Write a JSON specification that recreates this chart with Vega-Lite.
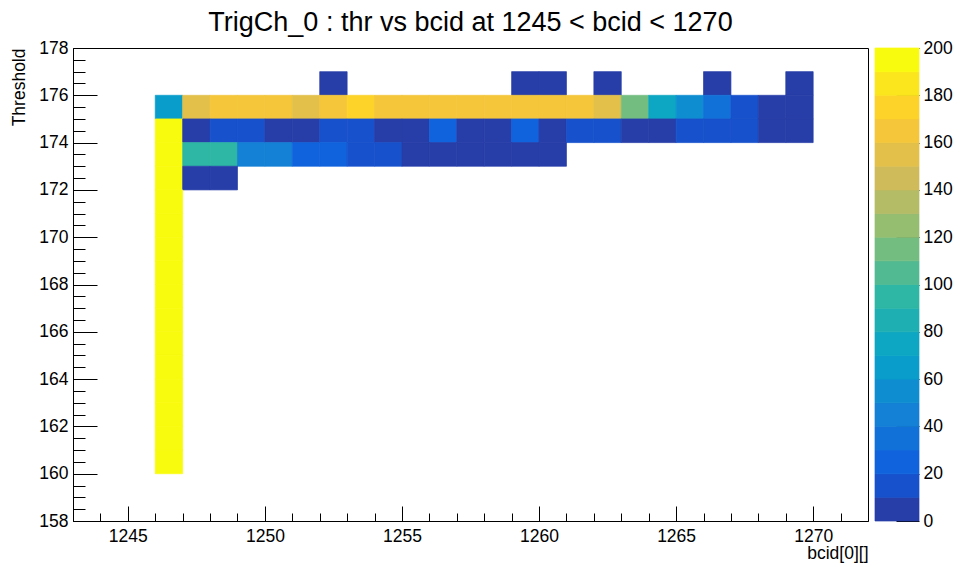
{
  "$schema": "https://vega.github.io/schema/vega-lite/v6.json",
  "background": "white",
  "padding": {"left": 10, "top": 8, "right": 5, "bottom": 0},
  "spacing": 5,
  "config": {
    "font": "Liberation Sans",
    "view": {"stroke": "black", "strokeWidth": 1},
    "axis": {
      "grid": false,
      "labelFont": "Liberation Sans",
      "labelFontSize": 17.5,
      "labelColor": "black",
      "titleFont": "Liberation Sans",
      "titleFontSize": 17.5,
      "titleFontWeight": "normal",
      "titleColor": "black",
      "domainColor": "black",
      "tickColor": "black",
      "tickWidth": 1
    }
  },
  "hconcat": [
    {
      "width": 795,
      "height": 473,
      "title": {"text": "TrigCh_0 : thr vs bcid at 1245 < bcid < 1270", "font": "Liberation Sans", "fontSize": 27, "fontWeight": "normal", "color": "black", "anchor": "middle", "frame": "group", "offset": 2},
      "data": {"values": [
        {"b0": 1252, "b1": 1253, "t0": 176, "t1": 177, "n": 3},
        {"b0": 1259, "b1": 1260, "t0": 176, "t1": 177, "n": 3},
        {"b0": 1260, "b1": 1261, "t0": 176, "t1": 177, "n": 3},
        {"b0": 1262, "b1": 1263, "t0": 176, "t1": 177, "n": 3},
        {"b0": 1266, "b1": 1267, "t0": 176, "t1": 177, "n": 3},
        {"b0": 1269, "b1": 1270, "t0": 176, "t1": 177, "n": 3},
        {"b0": 1246, "b1": 1247, "t0": 175, "t1": 176, "n": 65},
        {"b0": 1247, "b1": 1248, "t0": 175, "t1": 176, "n": 155},
        {"b0": 1248, "b1": 1249, "t0": 175, "t1": 176, "n": 165},
        {"b0": 1249, "b1": 1250, "t0": 175, "t1": 176, "n": 165},
        {"b0": 1250, "b1": 1251, "t0": 175, "t1": 176, "n": 165},
        {"b0": 1251, "b1": 1252, "t0": 175, "t1": 176, "n": 155},
        {"b0": 1252, "b1": 1253, "t0": 175, "t1": 176, "n": 165},
        {"b0": 1253, "b1": 1254, "t0": 175, "t1": 176, "n": 175},
        {"b0": 1254, "b1": 1255, "t0": 175, "t1": 176, "n": 165},
        {"b0": 1255, "b1": 1256, "t0": 175, "t1": 176, "n": 165},
        {"b0": 1256, "b1": 1257, "t0": 175, "t1": 176, "n": 165},
        {"b0": 1257, "b1": 1258, "t0": 175, "t1": 176, "n": 165},
        {"b0": 1258, "b1": 1259, "t0": 175, "t1": 176, "n": 165},
        {"b0": 1259, "b1": 1260, "t0": 175, "t1": 176, "n": 165},
        {"b0": 1260, "b1": 1261, "t0": 175, "t1": 176, "n": 165},
        {"b0": 1261, "b1": 1262, "t0": 175, "t1": 176, "n": 165},
        {"b0": 1262, "b1": 1263, "t0": 175, "t1": 176, "n": 155},
        {"b0": 1263, "b1": 1264, "t0": 175, "t1": 176, "n": 115},
        {"b0": 1264, "b1": 1265, "t0": 175, "t1": 176, "n": 75},
        {"b0": 1265, "b1": 1266, "t0": 175, "t1": 176, "n": 55},
        {"b0": 1266, "b1": 1267, "t0": 175, "t1": 176, "n": 35},
        {"b0": 1267, "b1": 1268, "t0": 175, "t1": 176, "n": 15},
        {"b0": 1268, "b1": 1269, "t0": 175, "t1": 176, "n": 5},
        {"b0": 1269, "b1": 1270, "t0": 175, "t1": 176, "n": 5},
        {"b0": 1246, "b1": 1247, "t0": 174, "t1": 175, "n": 200},
        {"b0": 1247, "b1": 1248, "t0": 174, "t1": 175, "n": 5},
        {"b0": 1248, "b1": 1249, "t0": 174, "t1": 175, "n": 15},
        {"b0": 1249, "b1": 1250, "t0": 174, "t1": 175, "n": 15},
        {"b0": 1250, "b1": 1251, "t0": 174, "t1": 175, "n": 5},
        {"b0": 1251, "b1": 1252, "t0": 174, "t1": 175, "n": 5},
        {"b0": 1252, "b1": 1253, "t0": 174, "t1": 175, "n": 15},
        {"b0": 1253, "b1": 1254, "t0": 174, "t1": 175, "n": 15},
        {"b0": 1254, "b1": 1255, "t0": 174, "t1": 175, "n": 5},
        {"b0": 1255, "b1": 1256, "t0": 174, "t1": 175, "n": 5},
        {"b0": 1256, "b1": 1257, "t0": 174, "t1": 175, "n": 25},
        {"b0": 1257, "b1": 1258, "t0": 174, "t1": 175, "n": 5},
        {"b0": 1258, "b1": 1259, "t0": 174, "t1": 175, "n": 5},
        {"b0": 1259, "b1": 1260, "t0": 174, "t1": 175, "n": 25},
        {"b0": 1260, "b1": 1261, "t0": 174, "t1": 175, "n": 5},
        {"b0": 1261, "b1": 1262, "t0": 174, "t1": 175, "n": 15},
        {"b0": 1262, "b1": 1263, "t0": 174, "t1": 175, "n": 15},
        {"b0": 1263, "b1": 1264, "t0": 174, "t1": 175, "n": 5},
        {"b0": 1264, "b1": 1265, "t0": 174, "t1": 175, "n": 5},
        {"b0": 1265, "b1": 1266, "t0": 174, "t1": 175, "n": 15},
        {"b0": 1266, "b1": 1267, "t0": 174, "t1": 175, "n": 15},
        {"b0": 1267, "b1": 1268, "t0": 174, "t1": 175, "n": 15},
        {"b0": 1268, "b1": 1269, "t0": 174, "t1": 175, "n": 5},
        {"b0": 1269, "b1": 1270, "t0": 174, "t1": 175, "n": 5},
        {"b0": 1246, "b1": 1247, "t0": 173, "t1": 174, "n": 200},
        {"b0": 1247, "b1": 1248, "t0": 173, "t1": 174, "n": 95},
        {"b0": 1248, "b1": 1249, "t0": 173, "t1": 174, "n": 95},
        {"b0": 1249, "b1": 1250, "t0": 173, "t1": 174, "n": 45},
        {"b0": 1250, "b1": 1251, "t0": 173, "t1": 174, "n": 45},
        {"b0": 1251, "b1": 1252, "t0": 173, "t1": 174, "n": 25},
        {"b0": 1252, "b1": 1253, "t0": 173, "t1": 174, "n": 25},
        {"b0": 1253, "b1": 1254, "t0": 173, "t1": 174, "n": 15},
        {"b0": 1254, "b1": 1255, "t0": 173, "t1": 174, "n": 15},
        {"b0": 1255, "b1": 1256, "t0": 173, "t1": 174, "n": 5},
        {"b0": 1256, "b1": 1257, "t0": 173, "t1": 174, "n": 5},
        {"b0": 1257, "b1": 1258, "t0": 173, "t1": 174, "n": 5},
        {"b0": 1258, "b1": 1259, "t0": 173, "t1": 174, "n": 5},
        {"b0": 1259, "b1": 1260, "t0": 173, "t1": 174, "n": 5},
        {"b0": 1260, "b1": 1261, "t0": 173, "t1": 174, "n": 5},
        {"b0": 1246, "b1": 1247, "t0": 172, "t1": 173, "n": 200},
        {"b0": 1247, "b1": 1248, "t0": 172, "t1": 173, "n": 5},
        {"b0": 1248, "b1": 1249, "t0": 172, "t1": 173, "n": 5},
        {"b0": 1246, "b1": 1247, "t0": 171, "t1": 172, "n": 200},
        {"b0": 1246, "b1": 1247, "t0": 170, "t1": 171, "n": 200},
        {"b0": 1246, "b1": 1247, "t0": 169, "t1": 170, "n": 200},
        {"b0": 1246, "b1": 1247, "t0": 168, "t1": 169, "n": 200},
        {"b0": 1246, "b1": 1247, "t0": 167, "t1": 168, "n": 200},
        {"b0": 1246, "b1": 1247, "t0": 166, "t1": 167, "n": 200},
        {"b0": 1246, "b1": 1247, "t0": 165, "t1": 166, "n": 200},
        {"b0": 1246, "b1": 1247, "t0": 164, "t1": 165, "n": 200},
        {"b0": 1246, "b1": 1247, "t0": 163, "t1": 164, "n": 200},
        {"b0": 1246, "b1": 1247, "t0": 162, "t1": 163, "n": 200},
        {"b0": 1246, "b1": 1247, "t0": 161, "t1": 162, "n": 200},
        {"b0": 1246, "b1": 1247, "t0": 160, "t1": 161, "n": 200}
      ]},
      "layer": [
        {
          "mark": {"type": "rect", "strokeWidth": 0.7},
          "encoding": {
            "x": {"field": "b0", "type": "quantitative",
              "scale": {"domain": [1243, 1272], "nice": false, "zero": false},
              "axis": {"orient": "bottom", "values": [1245, 1250, 1255, 1260, 1265, 1270], "format": "d", "tickSize": -15, "labelPadding": 21, "title": "bcid[0][]", "titleAnchor": "end", "titleAlign": "right", "titlePadding": 0}},
            "x2": {"field": "b1"},
            "y": {"field": "t0", "type": "quantitative",
              "scale": {"domain": [158, 178], "nice": false, "zero": false},
              "axis": {"orient": "left", "values": [158, 160, 162, 164, 166, 168, 170, 172, 174, 176, 178], "format": "d", "tickSize": -24, "labelPadding": 29, "title": "Threshold", "titleAnchor": "end", "titlePadding": 10}},
            "y2": {"field": "t1"},
            "color": {"field": "n", "type": "quantitative",
              "scale": {"type": "threshold", "domain": [10, 20, 30, 40, 50, 60, 70, 80, 90, 100, 110, 120, 130, 140, 150, 160, 170, 180, 190],
                "range": ["#273da8", "#1751cb", "#1063dc", "#1271d9", "#1480d6", "#0e8ed1", "#099dcc", "#0da7c3", "#1eafb3", "#2eb7a4", "#52ba92", "#74bd81", "#96be71", "#b4bc65", "#d0bb5a", "#e2c04a", "#f5c63a", "#fdd32a", "#fbe61d", "#f9fb0e"]},
              "legend": null},
            "stroke": {"field": "n", "type": "quantitative",
              "scale": {"type": "threshold", "domain": [10, 20, 30, 40, 50, 60, 70, 80, 90, 100, 110, 120, 130, 140, 150, 160, 170, 180, 190],
                "range": ["#273da8", "#1751cb", "#1063dc", "#1271d9", "#1480d6", "#0e8ed1", "#099dcc", "#0da7c3", "#1eafb3", "#2eb7a4", "#52ba92", "#74bd81", "#96be71", "#b4bc65", "#d0bb5a", "#e2c04a", "#f5c63a", "#fdd32a", "#fbe61d", "#f9fb0e"]},
              "legend": null}
          }
        },
        {
          "mark": {"type": "point", "opacity": 0},
          "encoding": {
            "x": {"field": "b0", "type": "quantitative",
              "axis": {"orient": "bottom", "values": [1244, 1245, 1246, 1247, 1248, 1249, 1250, 1251, 1252, 1253, 1254, 1255, 1256, 1257, 1258, 1259, 1260, 1261, 1262, 1263, 1264, 1265, 1266, 1267, 1268, 1269, 1270, 1271], "labels": false, "domain": false, "tickSize": -8, "title": null}},
            "y": {"field": "t0", "type": "quantitative",
              "axis": {"orient": "left", "values": [158.5, 159, 159.5, 160.5, 161, 161.5, 162.5, 163, 163.5, 164.5, 165, 165.5, 166.5, 167, 167.5, 168.5, 169, 169.5, 170.5, 171, 171.5, 172.5, 173, 173.5, 174.5, 175, 175.5, 176.5, 177, 177.5], "labels": false, "domain": false, "tickSize": -12, "title": null}}
          }
        }
      ],
      "resolve": {"axis": {"x": "independent", "y": "independent"}}
    },
    {
      "width": 44,
      "height": 473,
      "view": {"stroke": null},
      "data": {"values": [
        {"lo": 0, "hi": 10, "v": 5}, {"lo": 10, "hi": 20, "v": 15}, {"lo": 20, "hi": 30, "v": 25}, {"lo": 30, "hi": 40, "v": 35},
        {"lo": 40, "hi": 50, "v": 45}, {"lo": 50, "hi": 60, "v": 55}, {"lo": 60, "hi": 70, "v": 65}, {"lo": 70, "hi": 80, "v": 75},
        {"lo": 80, "hi": 90, "v": 85}, {"lo": 90, "hi": 100, "v": 95}, {"lo": 100, "hi": 110, "v": 105}, {"lo": 110, "hi": 120, "v": 115},
        {"lo": 120, "hi": 130, "v": 125}, {"lo": 130, "hi": 140, "v": 135}, {"lo": 140, "hi": 150, "v": 145}, {"lo": 150, "hi": 160, "v": 155},
        {"lo": 160, "hi": 170, "v": 165}, {"lo": 170, "hi": 180, "v": 175}, {"lo": 180, "hi": 190, "v": 185}, {"lo": 190, "hi": 200, "v": 195}
      ]},
      "mark": {"type": "rect", "strokeWidth": 0.7},
      "encoding": {
        "y": {"field": "lo", "type": "quantitative",
          "scale": {"domain": [0, 200], "nice": false, "zero": false},
          "axis": {"orient": "right", "values": [0, 20, 40, 60, 80, 100, 120, 140, 160, 180, 200], "tickSize": -23, "labelPadding": 27, "domain": false, "title": null}},
        "y2": {"field": "hi"},
        "color": {"field": "v", "type": "quantitative",
          "scale": {"type": "threshold", "domain": [10, 20, 30, 40, 50, 60, 70, 80, 90, 100, 110, 120, 130, 140, 150, 160, 170, 180, 190],
            "range": ["#273da8", "#1751cb", "#1063dc", "#1271d9", "#1480d6", "#0e8ed1", "#099dcc", "#0da7c3", "#1eafb3", "#2eb7a4", "#52ba92", "#74bd81", "#96be71", "#b4bc65", "#d0bb5a", "#e2c04a", "#f5c63a", "#fdd32a", "#fbe61d", "#f9fb0e"]},
          "legend": null},
        "stroke": {"field": "v", "type": "quantitative",
          "scale": {"type": "threshold", "domain": [10, 20, 30, 40, 50, 60, 70, 80, 90, 100, 110, 120, 130, 140, 150, 160, 170, 180, 190],
            "range": ["#273da8", "#1751cb", "#1063dc", "#1271d9", "#1480d6", "#0e8ed1", "#099dcc", "#0da7c3", "#1eafb3", "#2eb7a4", "#52ba92", "#74bd81", "#96be71", "#b4bc65", "#d0bb5a", "#e2c04a", "#f5c63a", "#fdd32a", "#fbe61d", "#f9fb0e"]},
          "legend": null}
      }
    }
  ]
}
